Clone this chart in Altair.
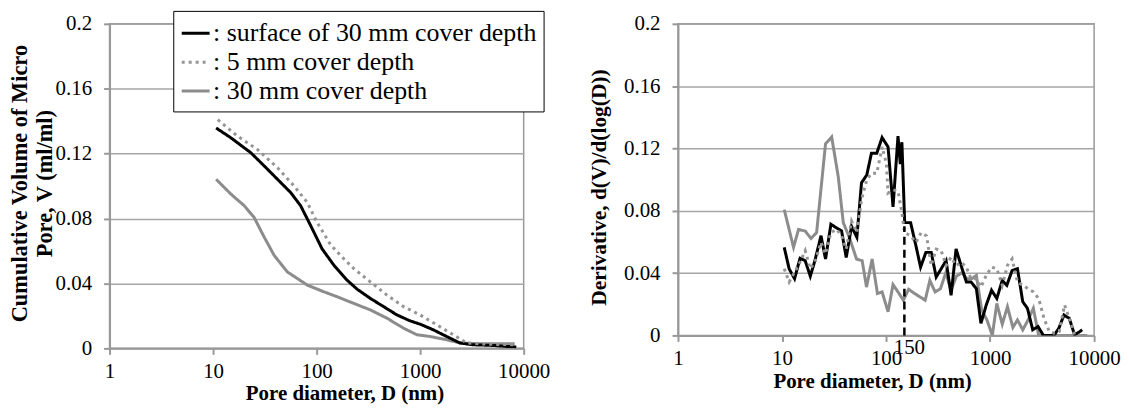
import altair as alt
import pandas as pd

FONT = "Liberation Serif"

# ---------------- data ----------------
series_names = ["surface of 30 mm cover depth", "5 mm cover depth", "30 mm cover depth"]
series_colors = ["#000000", "#959595", "#8c8c8c"]
series_dashes = [[1, 0], [3, 4], [1, 0]]
draw_order = ["30 mm cover depth", "surface of 30 mm cover depth", "5 mm cover depth"]

x_tick_values = [1, 10, 100, 1000, 10000]
y_tick_values = [0, 0.04, 0.08, 0.12, 0.16, 0.2]

# Left panel: cumulative volume
cum_surface_d = [10.7, 14.9, 23.2, 31.2, 40.4, 56.2, 70.1, 87.5, 113, 147, 197, 246, 330, 444,
                 597, 802, 1000, 1343, 1803, 2427, 3258, 5070, 6808, 8492]
cum_surface_v = [0.1358, 0.1297, 0.1205, 0.1124, 0.1052, 0.096, 0.0879, 0.0757, 0.0613, 0.0512,
                 0.042, 0.0365, 0.0308, 0.0257, 0.0206, 0.0169, 0.0149, 0.0114, 0.0073, 0.0033,
                 0.0022, 0.0018, 0.0012, 0.0008]
cum_5mm_d = [11.1, 17.3, 26.9, 41.9, 60.5, 81.3, 101, 136, 170, 229, 330, 478, 692, 1000, 1445,
             2094, 2812, 4375, 7889]
cum_5mm_v = [0.1409, 0.1307, 0.1225, 0.1113, 0.1001, 0.0899, 0.0777, 0.064, 0.0573, 0.0491, 0.041,
             0.0328, 0.0257, 0.0206, 0.0145, 0.0084, 0.0033, 0.0026, 0.0022]
cum_30mm_d = [10.7, 14.9, 20.0, 24.9, 31.2, 38.9, 52.2, 81.3, 117, 158, 229, 330, 478, 692, 929,
              1247, 1803, 2427, 3776, 8185]
cum_30mm_v = [0.1042, 0.095, 0.0879, 0.0807, 0.0685, 0.0573, 0.0471, 0.039, 0.0349, 0.0318, 0.0277,
              0.0237, 0.0186, 0.0124, 0.0084, 0.0073, 0.0053, 0.0033, 0.0029, 0.0029]

# Right panel: derivative
der_surface_d = [10.5, 11.7, 13.2, 14.9, 16.7, 18.7, 20.7, 23.7, 26.2, 29.5, 33.5, 37.4, 41.4, 46.6,
                 52.4, 58.1, 65.3, 72.4, 81.5, 91.6, 104.5, 116.7, 130.3, 137, 142, 151, 172.2,
                 193.6, 214.8, 241.5, 271.6, 303.4, 338.8, 377.6, 421.7, 471, 526, 591.6, 656.1,
                 738, 816.6, 918.3, 1033, 1161, 1309, 1449, 1629, 1832, 2061, 2286, 2570, 2891,
                 3251, 3656, 4111, 4592, 5129, 5768, 6486, 7295, 7674]
der_surface_v = [0.0565, 0.0428, 0.0364, 0.0495, 0.048, 0.038, 0.048, 0.064, 0.049, 0.0713, 0.069,
                 0.067, 0.050, 0.070, 0.063, 0.098, 0.103, 0.117, 0.117, 0.127, 0.121, 0.0825,
                 0.128, 0.11, 0.124, 0.0724, 0.0724, 0.0576, 0.0438, 0.0533, 0.0533, 0.0375,
                 0.0428, 0.048, 0.0258, 0.0555, 0.0449, 0.0343, 0.0343, 0.030, 0.0078, 0.0195,
                 0.029, 0.0237, 0.0353, 0.0322, 0.0417, 0.0428, 0.0216, 0.0174, 0.0036, 0.0057,
                 0, 0, 0, 0.0047, 0.0131, 0.011, 0.0004, 0.0025, 0.0036]
der_5mm_d = [10.5, 11.7, 13.2, 14.9, 16.7, 18.7, 20.7, 23.7, 26.2, 29.5, 33.5, 37.4, 41.4, 46.6,
             52.4, 58.1, 65.3, 72.4, 81.5, 91.6, 100.7, 104.5, 116.7, 130.3, 140.3, 151, 172.2,
             193.6, 217.8, 244.9, 271.6, 303.4, 338.8, 377.6, 421.7, 471, 526, 591.6, 656.1, 738,
             816.6, 918.3, 1033, 1161, 1309, 1469, 1629, 1832, 2061, 2317, 2606, 2931, 3296, 3707,
             4111, 4624, 5200, 5848, 6486, 7396, 8570]
der_5mm_v = [0.0428, 0.0343, 0.0406, 0.047, 0.0544, 0.0428, 0.047, 0.0597, 0.0523, 0.066, 0.0681,
             0.0639, 0.0554, 0.0734, 0.066, 0.0872, 0.0999, 0.1041, 0.1041, 0.121, 0.1105, 0.0914,
             0.0935, 0.0925, 0.0808, 0.066, 0.0639, 0.0597, 0.066, 0.0639, 0.0449, 0.0554, 0.0544,
             0.0449, 0.0502, 0.0449, 0.047, 0.0438, 0.0364, 0.0364, 0.0311, 0.0385, 0.0438,
             0.0428, 0.0322, 0.0449, 0.0491, 0.0343, 0.0322, 0.030, 0.0279, 0.0237, 0.011, 0.0025,
             0.0015, 0.0025, 0.0195, 0.0099, 0.0004, 0, 0]
der_30mm_d = [10.5, 12.9, 14.4, 16.7, 19.0, 21.5, 26.2, 30.0, 34.7, 38.8, 44.9, 52.0, 58.9, 64.9,
              73.5, 82.6, 91.6, 104.5, 116.7, 130.3, 146.6, 164.8, 187.9, 211.3, 237.7, 263.6,
              296.5, 333.4, 375, 421.7, 474.3, 533.3, 599.8, 665.3, 738, 829.8, 933.3, 1050, 1161,
              1309, 1469, 1656, 1832, 2061, 2317, 2606, 2931, 3656, 5129, 6486, 8570]
der_30mm_v = [0.0808, 0.0565, 0.068, 0.067, 0.0622, 0.066, 0.123, 0.1274, 0.102, 0.0724, 0.062,
              0.049, 0.048, 0.031, 0.049, 0.0269, 0.0279, 0.0152, 0.0326, 0.0279, 0.0226, 0.0296,
              0.0269, 0.0248, 0.0226, 0.0353, 0.0279, 0.030, 0.0402, 0.029, 0.038, 0.0402, 0.0364,
              0.0364, 0.0385, 0.0163, 0.0099, 0, 0.0205, 0.0072, 0.0184, 0.0051, 0.0099, 0.0036,
              0.0099, 0.0174, 0, 0, 0, 0, 0]

marker_d = [150]
marker_top = [0.07]
marker_label = ["150"]


def frame(pairs):
    rows = []
    for name, ds, vs in pairs:
        for d, v in zip(ds, vs):
            rows.append({"series": name, "d": d, "v": v})
    return pd.DataFrame(rows)


cum_df = frame([
    (series_names[0], cum_surface_d, cum_surface_v),
    (series_names[1], cum_5mm_d, cum_5mm_v),
    (series_names[2], cum_30mm_d, cum_30mm_v),
])
der_df = frame([
    (series_names[0], der_surface_d, der_surface_v),
    (series_names[1], der_5mm_d, der_5mm_v),
    (series_names[2], der_30mm_d, der_30mm_v),
])
marker_df = pd.DataFrame({"d": marker_d, "v0": [0] * len(marker_d), "v1": marker_top,
                          "label": marker_label})

x_scale = alt.Scale(type="log", domain=[1, 10000], nice=False)
y_scale = alt.Scale(domain=[0, 0.2], nice=False)
color_scale = alt.Scale(domain=series_names, range=series_colors)
dash_scale = alt.Scale(domain=series_names, range=series_dashes)

legend = alt.Legend(
    orient="none", legendX=64, legendY=-13, title=None,
    symbolType="stroke", symbolSize=784, symbolStrokeWidth=3,
    labelFont=FONT, labelFontSize=26, labelColor="black", labelLimit=600,
    labelExpr="': ' + datum.label", labelOffset=2, rowPadding=0,
    padding=7, fillColor="white", strokeColor="black",
)


def x_axis(title_x, title_y):
    return alt.Axis(values=x_tick_values, format="d", grid=False, tickSize=6,
                    labelPadding=17, labelBaseline="middle", labelFlush=False,
                    labelOverlap=False, title="Pore diameter, D (nm)", titleFontSize=21,
                    titleX=title_x, titleY=title_y, titleBaseline="middle")


def y_axis(title, title_x, font_size, title_y=None):
    kw = dict(values=y_tick_values, format="~g", grid=True, tickSize=6, labelPadding=12,
              title=title, titleX=title_x, titleBaseline="middle", titleAngle=270,
              titleLineHeight=25, titleFontSize=font_size)
    if title_y is not None:
        kw["titleY"] = title_y
    return alt.Axis(**kw)


def line_layers(df, xa, ya, leg):
    layers = []
    for name in draw_order:
        layers.append(
            alt.Chart(df).transform_filter(alt.datum.series == name)
            .mark_line(strokeWidth=3, clip=True)
            .encode(
                x=alt.X("d:Q", scale=x_scale, axis=xa),
                y=alt.Y("v:Q", scale=y_scale, axis=ya),
                color=alt.Color("series:N", scale=color_scale, legend=leg),
                strokeDash=alt.StrokeDash("series:N", scale=dash_scale, legend=leg),
                order=alt.Order("d:Q"),
            )
        )
    return layers


left_xa = x_axis(236, 45)
left_ya = y_axis(["Cumulative Volume of Micro", "Pore, V (ml/ml)"], -90, 22.5, 160)
left = alt.layer(*line_layers(cum_df, left_xa, left_ya, legend)).properties(width=416, height=326)

right_xa = x_axis(195, 46)
right_ya = y_axis("Derivative, d(V)/d(log(D))", -79, 21.5, 164)
rule = alt.Chart(marker_df).mark_rule(color="black", strokeWidth=2.5, strokeDash=[8, 5]).encode(
    x=alt.X("d:Q", scale=x_scale, axis=right_xa),
    y=alt.Y("v0:Q", scale=y_scale, axis=right_ya),
    y2="v1:Q",
)
label = alt.Chart(marker_df).mark_text(font=FONT, fontSize=21, color="black", dx=5, dy=13,
                                       baseline="middle").encode(
    x=alt.X("d:Q", scale=x_scale, axis=right_xa),
    y=alt.Y("v0:Q", scale=y_scale, axis=right_ya),
    text="label:N",
)
right = alt.layer(*line_layers(der_df, right_xa, right_ya, None), rule, label).properties(
    width=418, height=313)

chart = alt.hconcat(left, right, spacing=155, bounds="flush").resolve_scale(
    color="independent", strokeDash="independent", x="independent", y="independent"
).resolve_legend(color="independent", strokeDash="independent").properties(
    padding=0
).configure_view(
    stroke="#999999", strokeWidth=1.5
).configure_axis(
    domainColor="#999999", domainWidth=2, tickColor="#999999", tickWidth=2,
    gridColor="#a6a6a6", gridWidth=1.5,
    labelFont=FONT, labelFontSize=21, labelColor="black",
    titleFont=FONT, titleFontSize=20, titleFontWeight="bold", titleColor="black",
)

chart.save("out.html", embed_options={"renderer": "svg", "actions": False})
